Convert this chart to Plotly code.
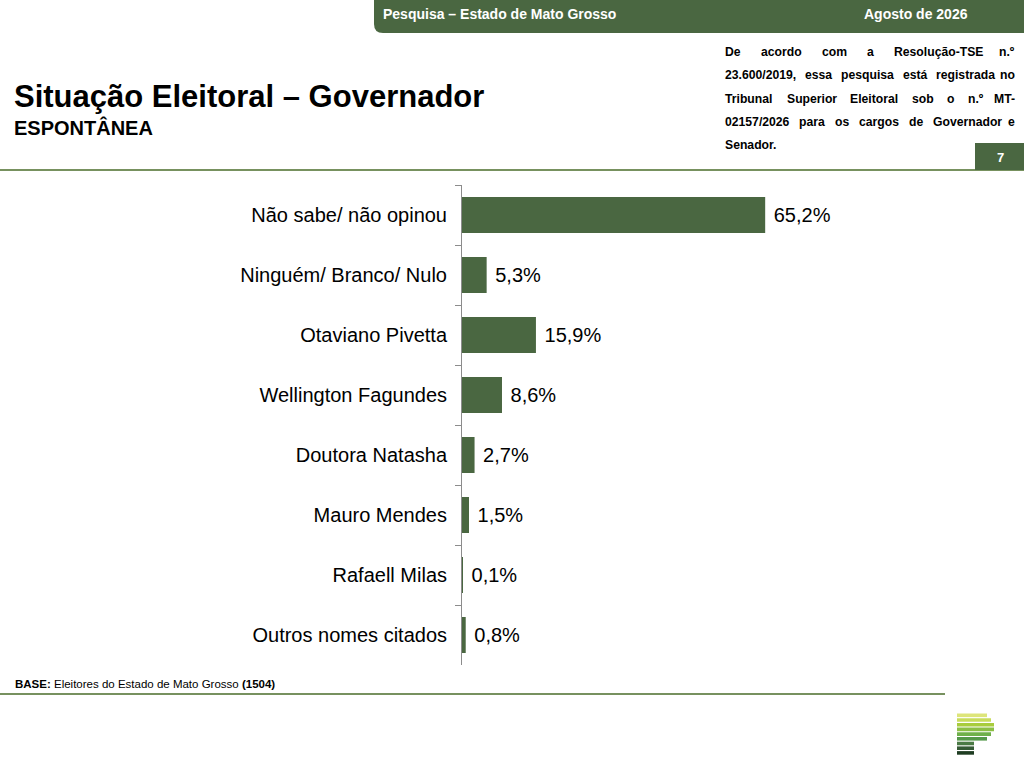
import plotly.graph_objects as go

# dados
categorias = ["Não sabe/ não opinou", "Ninguém/ Branco/ Nulo", "Otaviano Pivetta",
              "Wellington Fagundes", "Doutora Natasha", "Mauro Mendes",
              "Rafaell Milas", "Outros nomes citados"]
percentuais = [65.2, 5.3, 15.9, 8.6, 2.7, 1.5, 0.1, 0.8]

VERDE = "#4a6741"
FONTE = "Liberation Sans, Arial, sans-serif"

W, H = 1024, 768
L, R, T, B = 462, 945, 185, 665


# pixel -> coordenadas paper
def px(x):
    return (x - L) / (R - L)


def py(y):
    return (B - y) / (B - T)


fig = go.Figure()
fig.add_trace(go.Bar(
    x=percentuais,
    y=categorias,
    orientation="h",
    width=0.6,
    marker=dict(color=VERDE, line=dict(width=0)),
    texttemplate=" %{x:.1f}%",
    textposition="outside",
    textfont=dict(size=20, color="#000000", family=FONTE),
    cliponaxis=False,
    hoverinfo="skip",
))

fig.update_layout(
    width=W, height=H,
    margin=dict(l=L, r=W - R, t=T, b=H - B, pad=0),
    plot_bgcolor="white",
    paper_bgcolor="white",
    separators=",.",
    showlegend=False,
    font=dict(family=FONTE, color="#000000"),
)
fig.update_xaxes(range=[0, (R - L) / 4.65], visible=False, fixedrange=True)
fig.update_yaxes(
    autorange="reversed",
    showline=True, linecolor="#8c8c8c", linewidth=1,
    ticks="outside", tickson="boundaries", ticklen=6, tickcolor="#8c8c8c",
    ticklabelstandoff=10,
    tickfont=dict(size=20, family=FONTE, color="#000000"),
    showgrid=False, zeroline=False, fixedrange=True,
)

shapes = []
# faixa do cabeçalho com canto arredondado
shapes.append(dict(
    type="path", xref="paper", yref="paper",
    path=f"M {px(374)},{py(0)} L {px(1024)},{py(0)} L {px(1024)},{py(33)} "
         f"L {px(383)},{py(33)} Q {px(374)},{py(33)} {px(374)},{py(24)} Z",
    fillcolor=VERDE, line=dict(width=0), layer="above",
))
# linha abaixo do título
shapes.append(dict(type="line", xref="paper", yref="paper",
                   x0=px(0), x1=px(1024), y0=py(170), y1=py(170),
                   line=dict(color="#4a6d2a", width=1.5)))
# caixa do número da página
shapes.append(dict(type="rect", xref="paper", yref="paper",
                   x0=px(975), x1=px(1024), y0=py(143), y1=py(170),
                   fillcolor=VERDE, line=dict(width=0)))
# linha do rodapé
shapes.append(dict(type="line", xref="paper", yref="paper",
                   x0=px(0), x1=px(945), y0=py(694), y1=py(694),
                   line=dict(color="#4a6d2a", width=1.5)))

# logotipo (faixas)
logo_cores = ["#dde57a", "#c8dc5c", "#a8cc3c", "#8cbf45", "#6fb04a",
              "#55994a", "#4b7a45", "#355a35", "#1f3d22"]
logo_larg = [30, 34, 37, 37, 34, 30, 17, 17, 17]
for i, (c, w) in enumerate(zip(logo_cores, logo_larg)):
    y0 = 713.5 + i * 4.7
    shapes.append(dict(type="rect", xref="paper", yref="paper",
                       x0=px(957), x1=px(957 + w), y0=py(y0), y1=py(y0 + 3.6),
                       fillcolor=c, line=dict(width=0)))

fig.update_layout(shapes=shapes)

ann = []


def texto(x, y, s, size, bold=False, color="#000000", xanchor="left"):
    if bold:
        s = f"<b>{s}</b>"
    ann.append(dict(x=px(x), y=py(y), xref="paper", yref="paper", text=s,
                    showarrow=False, xanchor=xanchor, yanchor="middle",
                    font=dict(size=size, color=color, family=FONTE)))


texto(381, 14, "Pesquisa – Estado de Mato Grosso", 14, True, "white")
texto(970, 14, "Agosto de 2026", 14, True, "white", "right")
texto(12, 96, "Situação Eleitoral – Governador", 31, True)
texto(12, 127, "ESPONTÂNEA", 20, True)
texto(1000, 157, "7", 13, True, "white", "center")

# larguras aproximadas (Arial bold, /1000 em) para justificar o texto
LARG = {c: 556 for c in "abcdeghknopqsuvxyzçãáé0123456789"}
LARG.update({c: 611 for c in "bdghnopqu"})
LARG.update({"f": 333, "i": 278, "j": 278, "l": 278, "m": 889, "r": 389, "t": 333,
             "w": 778, ".": 278, ",": 278, "/": 278, "-": 333, "º": 365,
             "D": 722, "R": 722, "T": 611, "S": 667, "E": 667, "M": 833, "G": 778})


def largura(p, size):
    return sum(LARG.get(c, 600) for c in p) * size / 1000


linhas = [
    ["De", "acordo", "com", "a", "Resolução-TSE", "n.º"],
    ["23.600/2019,", "essa", "pesquisa", "está", "registrada", "no"],
    ["Tribunal", "Superior", "Eleitoral", "sob", "o", "n.º", "MT-"],
    ["02157/2026", "para", "os", "cargos", "de", "Governador", "e"],
]
TAM = 12.2
X0, X1 = 723, 1017
for j, palavras in enumerate(linhas):
    y = 52 + j * 23.3
    total = sum(largura(p, TAM) for p in palavras)
    gap = (X1 - X0 - total) / (len(palavras) - 1)
    x = X0
    for k, p in enumerate(palavras):
        if k == len(palavras) - 1:
            texto(X1, y, p, TAM, True, xanchor="right")
        else:
            texto(x, y, p, TAM, True)
        x += largura(p, TAM) + gap
texto(X0, 145, "Senador.", TAM, True)

texto(13, 684, "<b>BASE:</b> Eleitores do Estado de Mato Grosso <b>(1504)</b>", 11.5)

fig.update_layout(annotations=ann)

fig.write_html("out.html", config={"displayModeBar": False},
               post_script="document.body.style.margin='0';")
